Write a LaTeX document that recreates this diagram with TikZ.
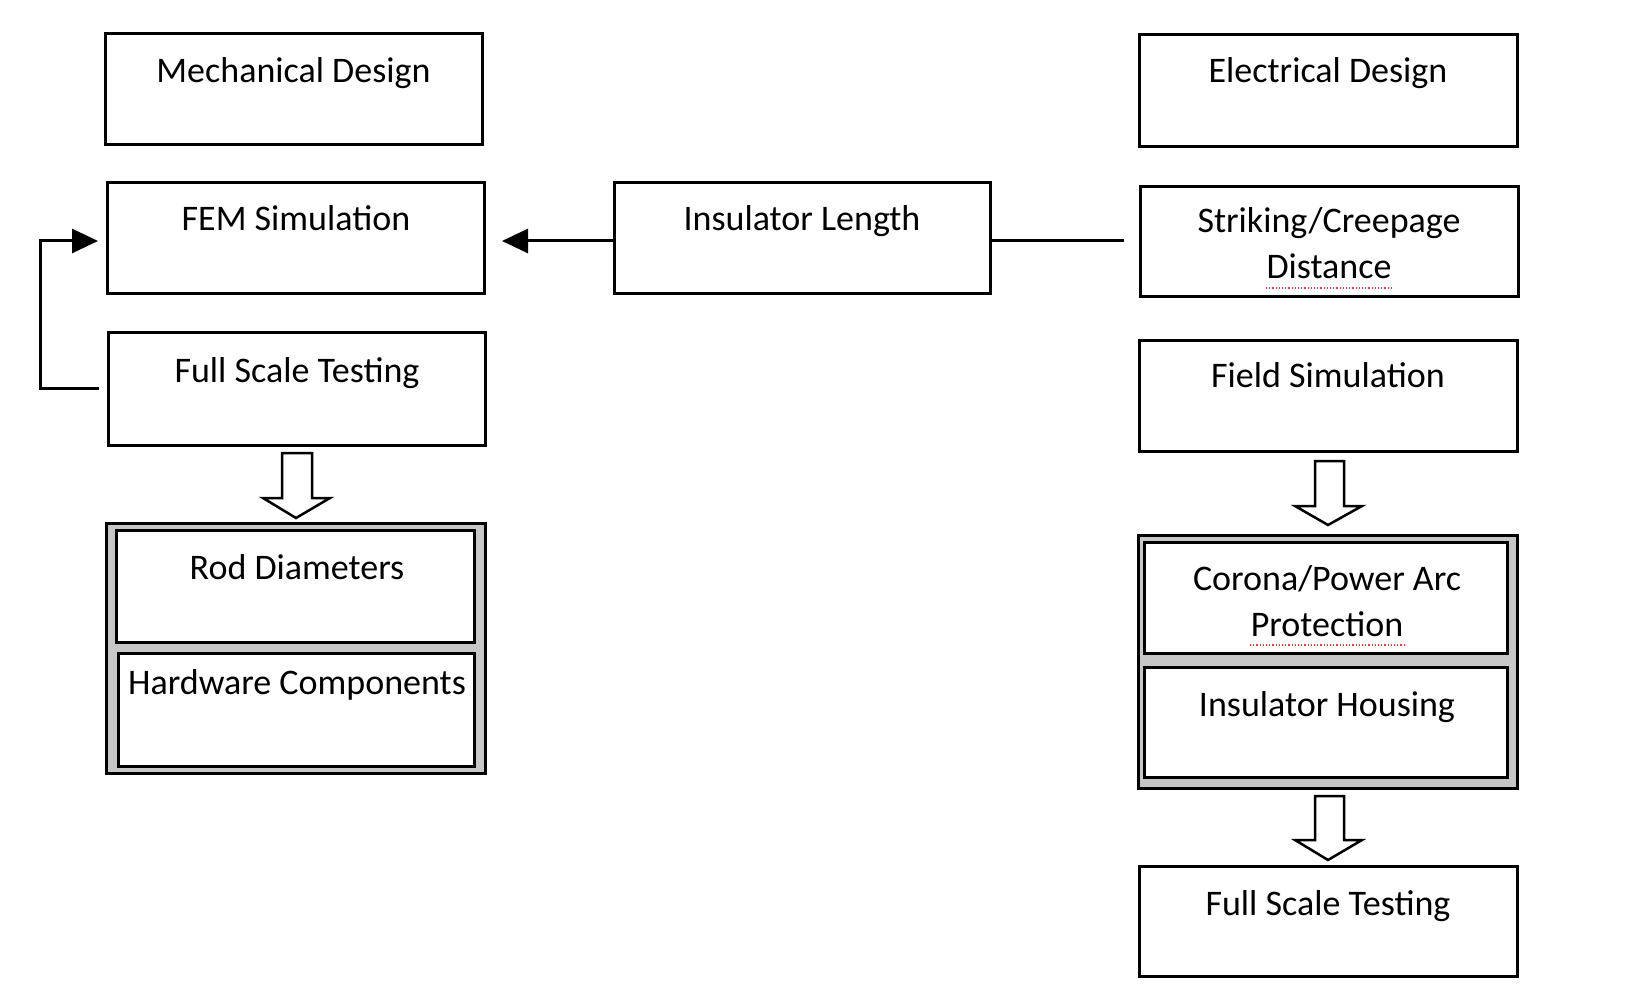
\documentclass[tikz,border=0pt]{standalone}
\usepackage{fontspec}
\setmainfont{Carlito}
\usetikzlibrary{arrows.meta}
\begin{document}
\begin{tikzpicture}[x=1pt,y=-1pt,
  box/.style={draw=black,line width=3pt,fill=white},
  grp/.style={draw=black,line width=3pt,fill=black!22},
  lbl/.style={anchor=base,font=\fontsize{36}{40}\selectfont,inner sep=0pt},
  conn/.style={line width=3pt},
  blk/.style={draw=black,line width=2.5pt,fill=white,line join=miter},
  spell/.style={red!80,dotted,line width=1.2pt}]
\useasboundingbox (0,0) rectangle (1626,984);
% left column
\draw[box] (105,34) rectangle (482,145);
\node[lbl] (mech) at (293.5,83) {Mechanical Design};
\draw[box] (107,183) rectangle (484,294);
\coordinate (femL) at (98,241); \coordinate (femR) at (502,241);
\node[lbl] (fem) at (296,231) {FEM Simulation};
\draw[box] (108,333) rectangle (485,445);
\coordinate (fstL) at (99,389);
\node[lbl] (fst) at (297,382) {Full Scale Testing};
\draw[conn] (fstL) -- (40,389) -- (40,241) -- (70,241);
\draw[conn,-{Triangle[length=26pt,width=24pt]}] (60,241) -- (femL);
% block arrow left
\draw[blk] (282,453) -- (312,453) -- (312,498) -- (330,498) -- (296,518) -- (263,498) -- (282,498) -- cycle;
\draw[grp] (106,523) rectangle (485,773);
\draw[box] (116,530) rectangle (474,642);
\draw[box] (118,653) rectangle (474,766);
\node[lbl] (rod) at (297,579) {Rod Diameters};
\node[lbl] (hw) at (297,694) {Hardware Components};
% middle
\draw[box] (614,183) rectangle (990,294);
\node[lbl] (ins) at (802,231) {Insulator Length};
\coordinate (insL) at (614,241); \coordinate (insR) at (990,241);
\coordinate (strL) at (1124,241);
\draw[conn,-{Triangle[length=26pt,width=24pt]}] (insL) -- (femR);
\draw[conn] (insR) -- (strL);
% right column
\begin{scope}[xshift=-6pt]
\draw[box] (1145,35) rectangle (1523,147);
\node[lbl] (elec) at (1334,83) {Electrical Design};
\draw[box] (1146,187) rectangle (1524,297);
\node[lbl] (str) at (1335,233) {Striking/Creepage};
\node[lbl] (dist) at (1335,279) {Distance};
\draw[spell] (1272,288) -- (1400,288);
\draw[box] (1145,341) rectangle (1523,451);
\node[lbl] (field) at (1334,388) {Field Simulation};
\draw[blk] (1321,461) -- (1350,461) -- (1350,506) -- (1368,506) -- (1334,525) -- (1301,506) -- (1321,506) -- cycle;
\draw[grp] (1144,535) rectangle (1523,788);
\draw[box] (1150,542) rectangle (1513,653);
\draw[box] (1150,667) rectangle (1513,777);
\node[lbl] (cor) at (1333,590) {Corona/Power Arc};
\node[lbl] (prot) at (1333,636) {Protection};
\draw[spell] (1256,645) -- (1410,645);
\node[lbl] (hous) at (1333,716) {Insulator Housing};
\draw[blk] (1321,796) -- (1350,796) -- (1350,840) -- (1368,840) -- (1334,860) -- (1301,840) -- (1321,840) -- cycle;
\draw[box] (1145,866) rectangle (1523,976);
\node[lbl] (fsr) at (1334,915) {Full Scale Testing};
\end{scope}
\end{tikzpicture}
\end{document}
